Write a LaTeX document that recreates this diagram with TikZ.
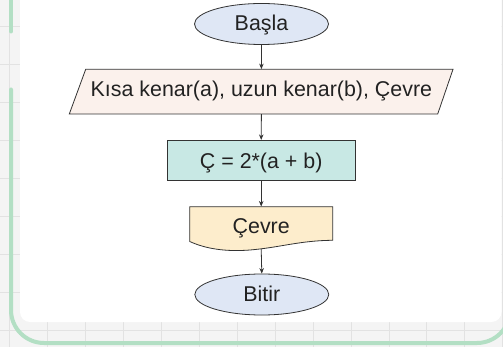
\documentclass[tikz,border=0pt]{standalone}
\usepackage{fontspec}
\setmainfont{Liberation Sans}
\usetikzlibrary{shapes.geometric,arrows.meta}
\definecolor{bggrey}{HTML}{F4F4F4}
\definecolor{gridc}{HTML}{E2E2E2}
\definecolor{greenb}{HTML}{B3DFC4}
\definecolor{edge}{HTML}{333333}
\definecolor{termfill}{HTML}{DFE7F5}
\definecolor{iofill}{HTML}{FBF1EC}
\definecolor{procfill}{HTML}{C8E8E4}
\definecolor{docfill}{HTML}{FDEDCC}
\definecolor{txt}{HTML}{222222}
\tikzset{
  gridline/.style={draw=gridc, line width=0.8pt},
  shapeline/.style={draw=edge, line width=0.8pt},
  lbl/.style={font=\fontsize{21.4}{24}\selectfont, text=txt, inner sep=0pt, text height=15pt, text depth=0pt},
  term/.style={lbl, shapeline, ellipse, fill=termfill, minimum width=134pt, minimum height=41pt, text depth=1.6pt},
  proc/.style={lbl, shapeline, rectangle, fill=procfill, minimum width=188pt, minimum height=40pt, text height=16pt},
  conn/.style={draw=edge, line width=0.8pt, -{Stealth[length=5.5pt,width=4.5pt]}},
}
\begin{document}
\begin{tikzpicture}[x=1pt,y=-1pt]
\useasboundingbox (0,0) rectangle (503,347);
\begin{scope}
\clip (0,0) rectangle (503,347);
\fill[bggrey] (0,0) rectangle (503,347);
\foreach \i in {0,...,13} \draw[gridline] ({9.4+37.95*\i},0) -- ++(0,347);
\foreach \i in {0,...,8} \draw[gridline] (0,{26.7+37.95*\i}) -- ++(503,0);
\fill[white, rounded corners=10pt] (20,-20) rectangle (501.5,322);
\draw[greenb, line width=4pt, line cap=round] (11,0) -- (11,31.5);
\draw[greenb, line width=4pt, line cap=round, rounded corners=33pt] (11,89.5) -- (11,343) -- (510,343) -- (510,200);
\end{scope}
% parallelogram outline
\filldraw[shapeline, fill=iofill] (85.7,69.3) -- (453,69.3) -- (437.7,114) -- (69.3,114) -- cycle;
% document outline
\filldraw[shapeline, fill=docfill] (189.7,206.7) -- (332.7,206.7) -- (332.7,240.3)
  .. controls (300,240.5) and (280,247.5) .. (250,250)
  .. controls (225,252) and (205,248.5) .. (189.7,241.5) -- cycle;
\node[term] (start) at (261.5,24) {Başla};
\node[lbl, text depth=4.9pt, minimum width=368pt, minimum height=44.7pt] (inp) at (261.4,91.65) {Kısa kenar(a), uzun kenar(b), Çevre};
\node[proc] (calc) at (261.2,160.3) {Ç = 2*(a + b)};
\node[lbl, text height=18.6pt, minimum width=143pt, minimum height=34.6pt] (out) at (261.2,224) {Çevre};
\coordinate (outb) at (261.2,248.8);
\node[term] (stop) at (261.8,294.5) {Bitir};
\draw[conn] (start) -- (inp.north);
\draw[conn] (inp.south) -- (calc.north);
\draw[conn] (calc.south) -- (out.north);
\draw[conn] (outb) -- (stop.north);
\end{tikzpicture}
\end{document}
